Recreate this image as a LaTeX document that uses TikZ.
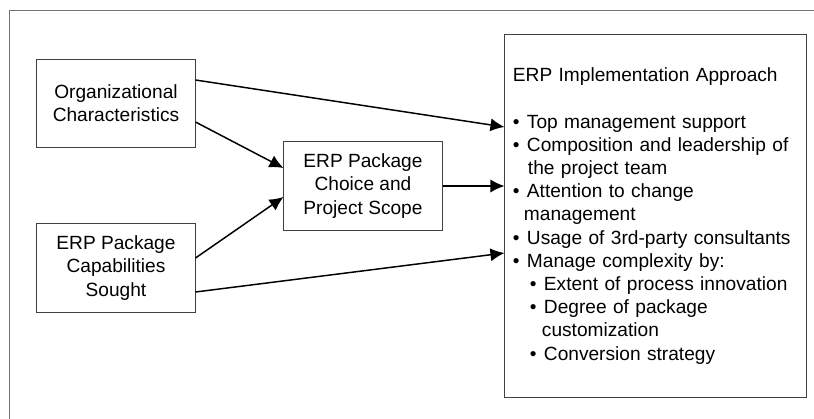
\documentclass[tikz,border=0pt]{standalone}
\usepackage{fontspec}
\setmainfont{Liberation Sans}
\usetikzlibrary{arrows.meta,calc}

\newcommand{\erpbullet}[1]{\makebox[0.35cm][l]{•}#1}
\newcommand{\erpsubbullet}[1]{\hspace*{0.425cm}\makebox[0.35cm][l]{•}#1}

\begin{document}
\begin{tikzpicture}[
            x=0.025cm,
            y=-0.025cm,
            font=\fontsize{13.6}{16.5}\selectfont,
            box/.style={draw=black!75, line width=0.7pt, minimum width=3.95cm, minimum height=2.2cm, align=center, inner sep=0pt},
            link/.style={-{Latex[length=0.35cm,width=0.33cm]}, line width=1.05pt}
        ]

        \useasboundingbox (0,0) rectangle (814,419);

        % outer frame
        \draw[black!55, line width=0.7pt] (814,10) -- (9.5,10) -- (9.5,419);

        % boxes
        \node[box] (org) at (116,103.5) {Organizational\\Characteristics};
        \node[box] (cap) at (116,268) {ERP Package\\Capabilities\\Sought};
        \node[box] (choice) at (363,186) {ERP Package\\Choice and\\Project Scope};

        \node[box, minimum width=7.525cm, minimum height=9.075cm, text width=7.125cm, align=left, inner xsep=0.2cm] (impl) at (655.5,216) {%
            ERP Implementation Approach\\[16.5pt]
            \erpbullet{Top management support}\\
            \erpbullet{Composition and leadership of}\\
            \hspace*{0.375cm}the project team\\
            \erpbullet{Attention to change}\\
            \hspace*{0.275cm}management\\
            \erpbullet{Usage of 3rd-party consultants}\\
            \erpbullet{Manage complexity by:}\\
            \erpsubbullet{Extent of process innovation}\\
            \erpsubbullet{Degree of package}\\
            \hspace*{0.725cm}customization\\
            \erpsubbullet{Conversion strategy}};

        % arrows
        \draw[link] ($(org.east)+(0,-23.5)$) -- ($(impl.west)+(0,-89)$);
        \draw[link] ($(org.east)+(0,18.5)$) -- ($(choice.west)+(0,-18)$);
        \draw[link] ($(cap.east)+(0,-10)$) -- ($(choice.west)+(0,11)$);
        \draw[link] (choice.east) -- (impl.west |- choice.east);
        \draw[link] ($(cap.east)+(0,24)$) -- ($(impl.west)+(0,37)$);

        \end{tikzpicture}
\end{document}
